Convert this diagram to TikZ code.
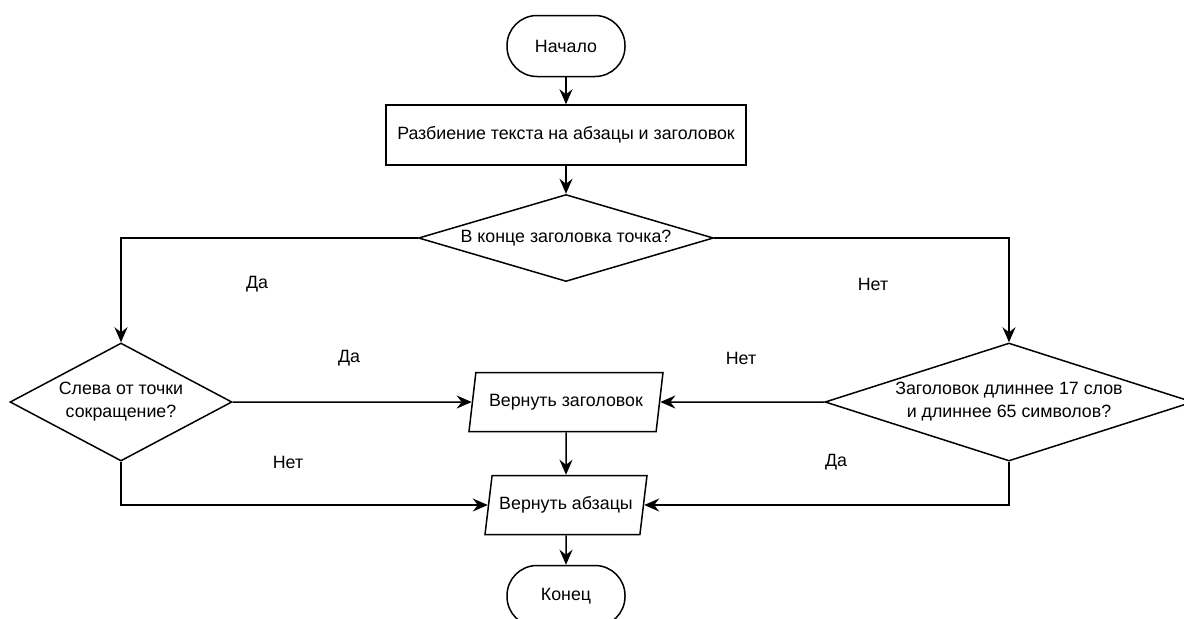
\documentclass[tikz,border=0pt]{standalone}
\usepackage{fontspec}
\setmainfont{Liberation Sans}
\usetikzlibrary{shapes.geometric,arrows.meta}

\begin{document}
\begin{tikzpicture}[x=0.5pt, y=-0.5pt, line width=0.75pt,
    every node/.style={font=\fontsize{8.9}{11.5}\selectfont},
    terminal/.style={draw, rectangle, rounded corners=15pt, minimum width=59pt, minimum height=30.5pt},
    process/.style={draw, rectangle, minimum width=180pt, minimum height=30pt},
    decision/.style={draw, diamond, inner sep=0pt, align=center},
    io/.style={draw, trapezium, trapezium left angle=74, trapezium right angle=106,
        trapezium stretches body, minimum height=29.5pt, inner sep=2pt},
    arrow/.style={-{Stealth[length=7.5pt, width=6.5pt, inset=2.5pt]}}]
    \useasboundingbox (0,0) rectangle (1184,618);

    % Start
    \node[terminal] (start) at (566,46) {Начало};
    \node[process] (split) at (566,135) {Разбиение текста на абзацы и заголовок};

    % Dot at the end of the title
    \node[decision, aspect=3.4, minimum width=147.5pt, minimum height=43.5pt] (dot) at (566,238)
        {В конце заголовка точка?};

    % Abbreviation
    \node[decision, aspect=1.88, minimum width=111pt, minimum height=59pt] (abbr) at (121,402)
        {Слева от точки\\сокращение?};

    % Long title
    \node[decision, aspect=3.1, minimum width=184pt, minimum height=59pt] (long) at (1009,402)
        {Заголовок длиннее 17 слов\\и длиннее 65 символов?};

    % Outputs
    \node[io, minimum width=97pt] (rtitle) at (566,402) {Вернуть заголовок};
    \node[io, minimum width=81pt] (rpar) at (566,505) {Вернуть абзацы};
    \node[terminal] (end) at (566,596) {Конец};

    % Labels
    \node (yesdot) at (257,284) {Да};
    \node (nodot) at (873,284) {Нет};
    \node (yesabbr) at (349,358) {Да};
    \node (nolong) at (741,358) {Нет};
    \node (noabbr) at (288,462) {Нет};
    \node (yeslong) at (836,462) {Да};

    % Connectors
    \draw[arrow] (start) -- (split);
    \draw[arrow] (split) -- (dot);
    \draw[arrow] (dot.west) -| (abbr.north);
    \draw[arrow] (dot.east) -| (long.north);
    \draw[arrow] (abbr.east) -- (rtitle.west);
    \draw[arrow] (long.west) -- (rtitle.east);
    \draw[arrow] (abbr.south) |- (rpar.west);
    \draw[arrow] (long.south) |- (rpar.east);
    \draw[arrow] (rtitle) -- (rpar);
    \draw[arrow] (rpar) -- (end);
\end{tikzpicture}
\end{document}
